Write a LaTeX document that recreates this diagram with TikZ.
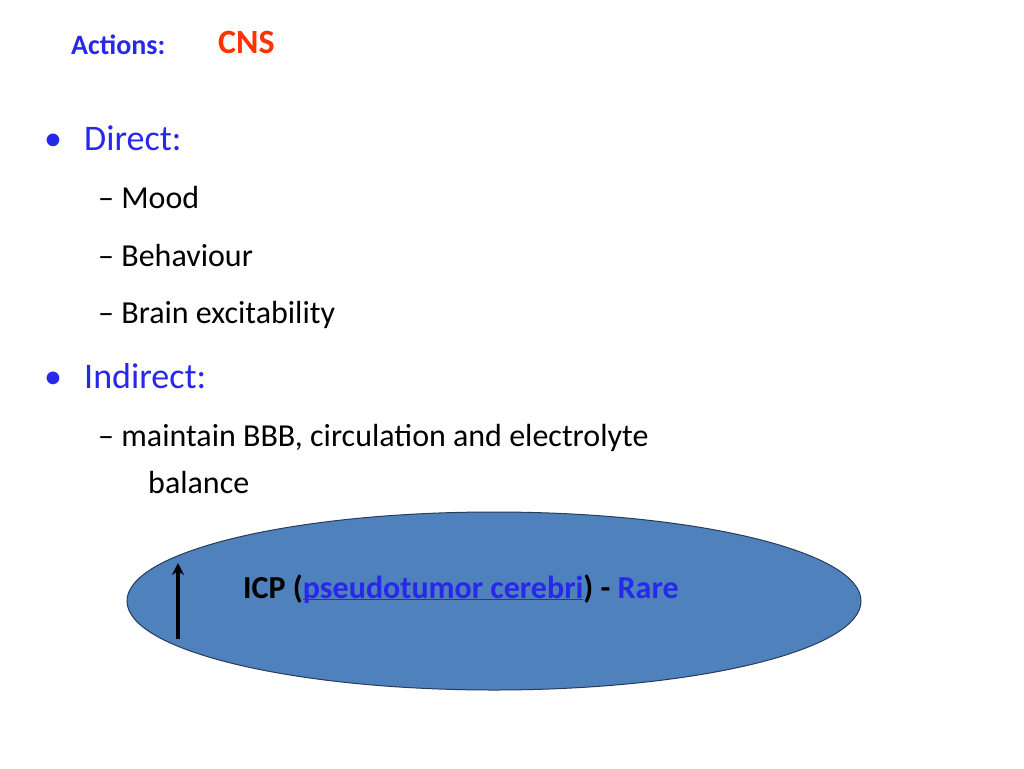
\documentclass[tikz,border=0pt]{standalone}
\usepackage{fontspec}
\setmainfont{Carlito}
\usetikzlibrary{arrows.meta,shapes.geometric}
\definecolor{tblue}{RGB}{40,40,235}
\definecolor{cnsred}{RGB}{255,51,0}
\definecolor{ellfill}{RGB}{79,129,189}
\definecolor{ellline}{RGB}{40,60,90}
\tikzset{txt/.style={anchor=base west,inner sep=0pt},
  lvl1/.style={txt,font=\fontsize{36}{40}\selectfont,text=tblue},
  lvl2/.style={txt,font=\fontsize{32}{36}\selectfont}}
\begin{document}
\begin{tikzpicture}[x=1pt,y=-1pt]
\useasboundingbox (0,0) rectangle (1024,768);
\node[txt,font=\fontsize{28}{30}\selectfont\bfseries,text=tblue] (act) at (71,55) {Actions:};
\node[txt,font=\fontsize{34}{36}\selectfont\bfseries,text=cnsred] (cns) at (218,53) {CNS};
\node[lvl1] (b1) at (44,150) {•};
\node[lvl1] (dir) at (84,150) {Direct:};
\node[lvl2] (m) at (98,208) {– Mood};
\node[lvl2] (be) at (98,266) {– Behaviour};
\node[lvl2] (br) at (98,323) {– Brain excitability};
\node[lvl1] (b2) at (44,388) {•};
\node[lvl1] (ind) at (84,388) {Indirect:};
\node[lvl2] (mt) at (98,446) {– maintain BBB, circulation and electrolyte};
\node[lvl2] (bal) at (148,493) {balance};
\node[draw=ellline,fill=ellfill,line width=1pt,ellipse,minimum width=734,minimum height=178,inner sep=0pt] (ell) at (494,601) {};
\node[txt,font=\fontsize{32}{36}\selectfont\bfseries] (icp) at (243,598) {ICP (\textcolor{tblue}{\underline{\smash{pseudotumor cerebri}}}) - \textcolor{tblue}{Rare}};
\coordinate (a1) at (178,639);
\coordinate (a2) at (178,563);
\draw[line width=3.5pt,-{Stealth[length=12pt,width=12pt]}] (a1) -- (a2);
\end{tikzpicture}
\end{document}
